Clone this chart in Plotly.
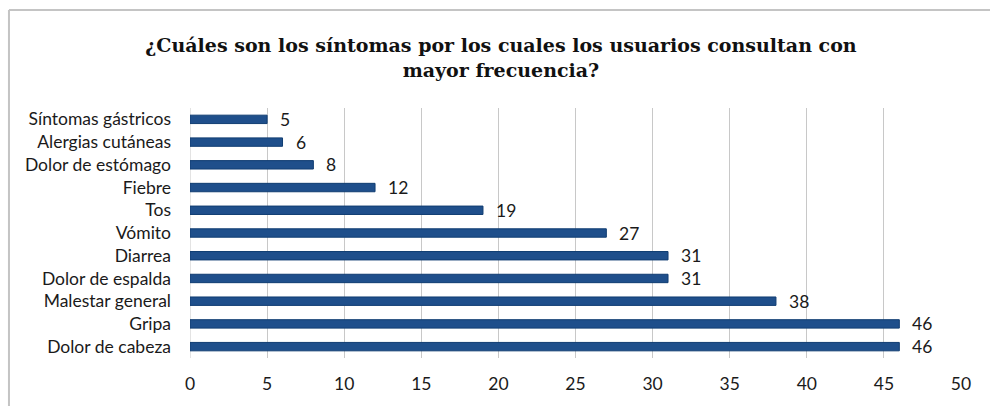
import plotly.graph_objects as go

categories = ["Dolor de cabeza", "Gripa", "Malestar general", "Dolor de espalda",
              "Diarrea", "Vómito", "Tos", "Fiebre", "Dolor de estómago",
              "Alergias cutáneas", "Síntomas gástricos"]
values = [46, 46, 38, 31, 31, 27, 19, 12, 8, 6, 5]
x_ticks = [0, 5, 10, 15, 20, 25, 30, 35, 40, 45, 50]
title_text = "¿Cuáles son los síntomas por los cuales los usuarios consultan con<br>mayor frecuencia?"

LABEL_FONT = dict(family="Lato", size=17.5, color="#1a1a1a")

fig = go.Figure()
fig.add_trace(go.Bar(
    y=categories, x=values, orientation="h",
    width=0.37,
    marker=dict(color="#1f4f8b", line=dict(color="#103d72", width=1)),
    hoverinfo="x+y",
))

annotations = []
for c, v in zip(categories, values):
    annotations.append(dict(
        x=v, y=c, xref="x", yref="y", text=str(v), showarrow=False,
        xanchor="left", xshift=11,
        font=LABEL_FONT,
    ))

fig.update_layout(
    width=990, height=406,
    margin=dict(l=190, r=29, t=108, b=48),
    paper_bgcolor="white", plot_bgcolor="white",
    showlegend=False,
    title=dict(
        text=title_text, x=0.506, xref="container", xanchor="center",
        y=0.872, yref="container", yanchor="middle",
        font=dict(family="DejaVu Serif", size=19, color="#111111", weight="bold"),
    ),
    annotations=annotations,
    xaxis=dict(
        range=[0, 50], tickvals=x_ticks, showgrid=True,
        gridcolor="#c8c8c8", gridwidth=1, zeroline=False,
        showline=False, ticks="", ticklabelstandoff=13,
        tickfont=LABEL_FONT,
        fixedrange=True,
    ),
    yaxis=dict(
        showgrid=False, showline=False, ticks="", ticklabelstandoff=18,
        tickfont=LABEL_FONT,
        range=[-0.5, len(categories) - 0.5],
    ),
    shapes=[
        dict(type="line", xref="x", yref="paper", x0=0, x1=0, y0=0, y1=1,
             line=dict(color="#c8c8c8", width=1), layer="below"),
        dict(type="line", xref="paper", yref="paper", x0=-0.2348, x1=1.04, y0=1.392, y1=1.392,
             line=dict(color="#c4c4c4", width=2)),
        dict(type="line", xref="paper", yref="paper", x0=-0.2348, x1=-0.2348, y0=-0.2, y1=1.392,
             line=dict(color="#c4c4c4", width=2)),
    ],
)

fig.write_html("out.html", config={"displayModeBar": False},
               post_script="document.body.style.margin='0px';document.body.style.padding='0px';")
